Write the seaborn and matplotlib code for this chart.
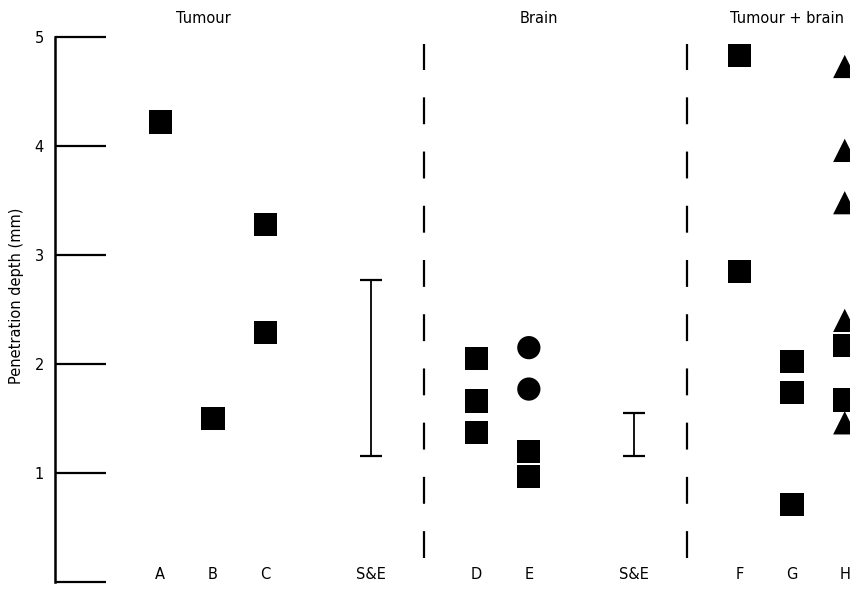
import matplotlib
matplotlib.use("Agg")
import matplotlib.pyplot as plt
import seaborn as sns
import pandas as pd

# ---- data -------------------------------------------------------------
group_titles = ["Tumour", "Brain", "Tumour + brain"]

# individual measurements (mm) per specimen, with the marker shape used
a_vals = [4.22]
b_vals = [1.50]
c_vals = [3.28, 2.29]
d_vals = [2.05, 1.66, 1.37]
e_circle_vals = [2.15, 1.77]
e_square_vals = [1.20, 0.97]
f_vals = [4.83, 2.85]
g_vals = [2.02, 1.74, 0.71]
h_square_vals = [2.17, 1.67]
h_triangle_vals = [4.73, 3.96, 3.48, 2.40, 1.46]

# S&E ranges (low, high)
se_tumour = (1.16, 2.77)
se_brain = (1.16, 1.55)

bottom_labels = ["A", "B", "C", "S&E", "D", "E", "S&E", "F", "G", "H"]
ytick_vals = [0, 1, 2, 3, 4, 5]
ytick_text = ["", "1", "2", "3", "4", "5"]

# ---- layout -------------------------------------------------------------
slot = {"A": 1, "B": 2, "C": 3, "SE1": 5, "D": 7, "E": 8, "SE2": 10,
        "F": 12, "G": 13, "H": 14}
label_slots = [1, 2, 3, 5, 7, 8, 10, 12, 13, 14]
divider_slots = [6, 11]
title_slots = [1.82, 8.2, 12.9]

rows = []
def add(key, vals, shape):
    for v in vals:
        rows.append({"pos": slot[key], "depth": v, "shape": shape})

add("A", a_vals, "square")
add("B", b_vals, "square")
add("C", c_vals, "square")
add("D", d_vals, "square")
add("E", e_circle_vals, "circle")
add("E", e_square_vals, "square")
add("F", f_vals, "square")
add("G", g_vals, "square")
add("H", h_square_vals, "square")
add("H", h_triangle_vals, "triangle")
df = pd.DataFrame(rows)

sns.set_style("white")
plt.rcParams["font.family"] = ["DejaVu Sans"]
FS = 10.5

fig = plt.figure(figsize=(8.5, 5.91), dpi=100)
ax = fig.add_axes([55 / 850, 0, 1 - 55 / 850, 1])

sns.scatterplot(data=df, x="pos", y="depth", style="shape",
                markers={"square": "s", "circle": "o", "triangle": "^"},
                color="black", s=280, linewidth=0, legend=False, ax=ax,
                clip_on=True)

# S&E range bars
for key, (lo, hi) in (("SE1", se_tumour), ("SE2", se_brain)):
    ax.errorbar([slot[key]], [(lo + hi) / 2], yerr=[[(hi - lo) / 2], [(hi - lo) / 2]],
                fmt="none", ecolor="black", elinewidth=1.3, capsize=8, capthick=1.6)

# dashed group dividers
for xd in divider_slots:
    ax.plot([xd, xd], [0.22, 4.94], color="black", lw=1.6,
            linestyle=(0, (12.1, 12.3)))

# group headings
for xt, t in zip(title_slots, group_titles):
    ax.text(xt, 5.17, t, ha="center", va="center", fontsize=FS, color="black")

# specimen labels along the base
for xl, t in zip(label_slots, bottom_labels):
    ax.text(xl, 0.065, t, ha="center", va="center", fontsize=FS, color="black")

ax.set_xlim(-1, 14.1)
ax.set_ylim(-0.083, 5.34)

for side in ("top", "right", "bottom"):
    ax.spines[side].set_visible(False)
ax.spines["left"].set_bounds(0, 5)
ax.spines["left"].set_linewidth(1.8)
ax.spines["left"].set_color("black")

ax.set_xticks([])
ax.set_yticks(ytick_vals)
ax.set_yticklabels(ytick_text, fontsize=FS, color="black")
ax.tick_params(axis="y", left=True, direction="in", length=37, width=1.6,
               pad=8, color="black", labelcolor="black")
ax.set_xlabel("")
ax.set_ylabel("Penetration depth (mm)", fontsize=FS, color="black")
ax.yaxis.set_label_coords(-31 / 795, 0.5)

fig.savefig("out.png", dpi=100)
